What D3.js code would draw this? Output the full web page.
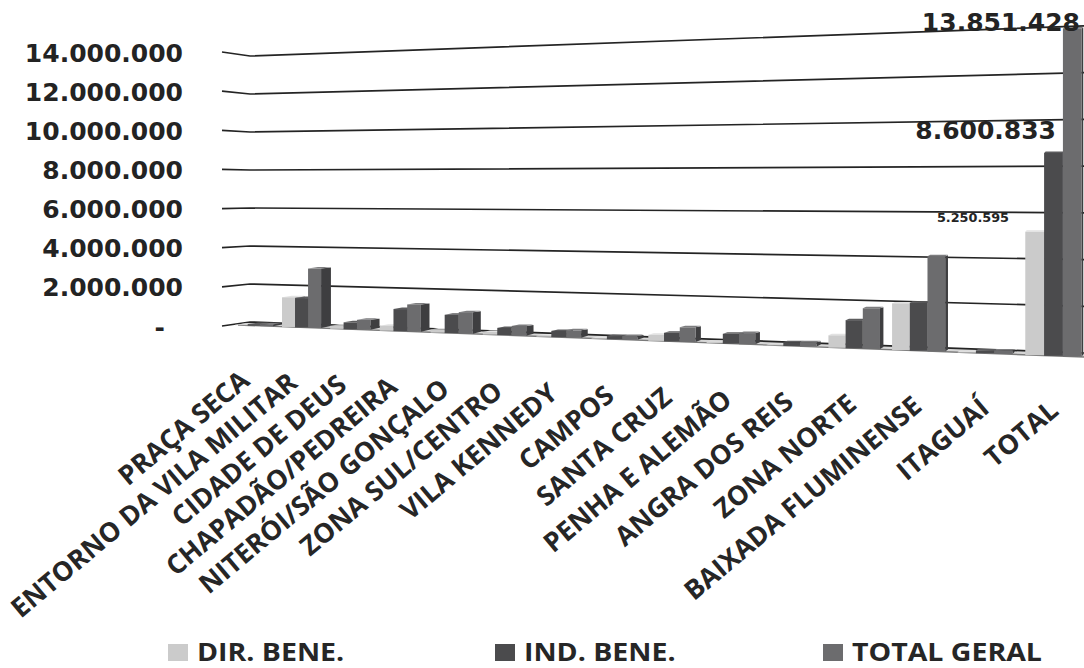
<!DOCTYPE html>
<html lang="pt-BR">
<head>
<meta charset="utf-8">
<script src="https://cdn.jsdelivr.net/npm/d3@7/dist/d3.min.js"></script>
<style>
  html, body { margin: 0; padding: 0; background: #fff; }
  svg { display: block; }
</style>
</head>
<body>
<svg id="chart" width="1084" height="668"></svg>
<script>
const categories = ["PRAÇA SECA", "ENTORNO DA VILA MILITAR", "CIDADE DE DEUS", "CHAPADÃO/PEDREIRA",
  "NITERÓI/SÃO GONÇALO", "ZONA SUL/CENTRO", "VILA KENNEDY", "CAMPOS", "SANTA CRUZ",
  "PENHA E ALEMÃO", "ANGRA DOS REIS", "ZONA NORTE", "BAIXADA FLUMINENSE", "ITAGUAÍ", "TOTAL"];
const seriesNames = ["DIR. BENE.", "IND. BENE.", "TOTAL GERAL"];
const dirBene = [20000, 1520000, 150000, 250000, 150000, 120000, 50000, 30000, 280000, 60000, 30000, 550000, 2050000, 30000, 5250595];
const indBene = [80000, 1500000, 350000, 1100000, 900000, 350000, 300000, 150000, 400000, 450000, 170000, 1250000, 2100000, 120000, 8600833];
const totalGeral = [100000, 3020000, 500000, 1350000, 1050000, 470000, 350000, 180000, 680000, 510000, 200000, 1800000, 4150000, 150000, 13851428];
const yTicks = [0, 2000000, 4000000, 6000000, 8000000, 10000000, 12000000, 14000000];
const barLabels = [
  { text: "5.250.595", size: 12.8, weight: "bold", endX: 1009, baseline: 222 },
  { text: "8.600.833", size: 25, weight: "bold", endX: 1056, baseline: 139 },
  { text: "13.851.428", size: 25, weight: "bold", endX: 1080, baseline: 31 }
];
const series = [dirBene, indBene, totalGeral];
const frontColors = ["#cbcbcb", "#4b4b4d", "#6c6c6e"];
const topColors = ["#e2e2e2", "#5c5c5e", "#7d7d7f"];
const sideColors = ["#a8a8a8", "#38383a", "#3e3e40"];

const svg = d3.select("#chart");
const labelFont = "'Open Sans', sans-serif";
const numberFont = "'DejaVu Sans', sans-serif";

// Perspective along the category axis: slots widen towards the viewer on the right.
const depth = i => i / (1 - 0.0127 * i);
const slotScale = d3.scaleLinear().domain([0, depth(15)]).range([235, 1095]);
const groupX = i => slotScale(depth(i));
const slotWidth = i => groupX(i + 1) - groupX(i);
const sideWidth = d3.scaleLinear().domain([0, 14]).range([10.5, 1.5]);

// Floor edges and value scale at a given horizontal position.
const backY = d3.scaleLinear().domain([250, 1084]).range([322, 353]);
const frontY = d3.scaleLinear().domain([250, 1084]).range([325.5, 357]);
const wallUnit = d3.scaleLinear().domain([250, 1084]).range([19, 23.36]);
const barUnit = d3.scaleLinear().domain([250, 1084]).range([19.3, 23.75]);
const wallY = (v, x) => backY(x) - (v / 1e6) * wallUnit(x);
const barY = (v, x) => frontY(x) - (v / 1e6) * barUnit(x);

// Value axis, drawn at the left edge of the side wall.
const locale = d3.formatLocale({ decimal: ",", thousands: ".", grouping: [3], currency: ["R$", ""] });
const fmt = locale.format(",d");
const yAxisScale = d3.scaleLinear().domain([0, 14000000]).range([326, 52]);
const axisG = svg.append("g")
  .attr("transform", "translate(183,0)")
  .call(d3.axisLeft(yAxisScale).tickValues(yTicks).tickSize(0).tickPadding(0)
    .tickFormat(v => v === 0 ? "-" : fmt(v)));
axisG.select(".domain").remove();
axisG.selectAll("text")
  .attr("dy", "0.36em")
  .attr("x", v => v === 0 ? -18 : 0)
  .attr("fill", "#232323")
  .style("font-family", numberFont)
  .style("font-size", "25px")
  .style("font-weight", "bold");

// Floor wedge.
svg.append("polygon")
  .attr("points", [[250, backY(250)], [1084, backY(1084)], [1084, frontY(1084)], [238, frontY(238)]].join(" "))
  .attr("fill", "#d6d6d6");
svg.append("line")
  .attr("x1", 238).attr("y1", frontY(238)).attr("x2", 1084).attr("y2", frontY(1084))
  .attr("stroke", "#7a7a7a").attr("stroke-width", 1.4);

// Gridlines bend where the side wall meets the back wall.
const gridLine = d3.line();
svg.append("g").selectAll("path").data(yTicks).join("path")
  .attr("d", v => gridLine([[222, yAxisScale(v)], [250, wallY(v, 250)], [1084, wallY(v, 1084)]]))
  .attr("fill", "none")
  .attr("stroke", "#242424")
  .attr("stroke-width", 1.7);

// Bars: each has a front, a top and a right-hand side face.
const bars = [];
categories.forEach((c, i) => series.forEach((values, s) => {
  const w = slotWidth(i) * 0.27;
  const x0 = groupX(i) + s * w;
  const bottom = frontY(x0 + w / 2);
  const top = barY(values[i], x0 + w / 2);
  bars.push({ x0, x1: x0 + w, top, bottom, side: sideWidth(i), s });
}));
const barG = svg.append("g").selectAll("g").data(bars).join("g");
barG.append("polygon")
  .attr("points", d => [[d.x1, d.top], [d.x1 + d.side, d.top - 1], [d.x1 + d.side, d.bottom - 2], [d.x1, d.bottom]].join(" "))
  .attr("fill", d => sideColors[d.s]);
barG.append("polygon")
  .attr("points", d => [[d.x0, d.top], [d.x0 + d.side, d.top - 1.5], [d.x1 + d.side, d.top - 1.5], [d.x1, d.top]].join(" "))
  .attr("fill", d => topColors[d.s]);
barG.append("rect")
  .attr("x", d => d.x0).attr("y", d => d.top)
  .attr("width", d => d.x1 - d.x0).attr("height", d => d.bottom - d.top)
  .attr("fill", d => frontColors[d.s]);

// Value labels for the TOTAL group.
svg.append("g").selectAll("text").data(barLabels).join("text")
  .attr("x", d => d.endX).attr("y", d => d.baseline)
  .attr("text-anchor", "end")
  .attr("fill", "#232323")
  .style("font-family", numberFont)
  .style("font-size", d => d.size + "px")
  .style("font-weight", d => d.weight)
  .text(d => d.text);

// Slanted category labels ending under each group.
const labelTipX = i => groupX(i) + slotWidth(i) * 0.826 - 33;
const labelTipY = i => 371 + i * 2.14;
svg.append("g").selectAll("text").data(categories).join("text")
  .attr("transform", (c, i) => `translate(${labelTipX(i)},${labelTipY(i)}) rotate(-40)`)
  .attr("x", 0).attr("y", 16)
  .attr("text-anchor", "end")
  .attr("fill", "#262626")
  .style("font-family", labelFont)
  .style("font-size", "26.8px")
  .style("font-weight", 700)
  .text(c => c);

// Legend: labels are wide and short, so they are stretched horizontally.
const legendSwatchX = [168, 495, 823];
const legendG = svg.append("g").selectAll("g").data(seriesNames).join("g")
  .attr("transform", (n, i) => `translate(${legendSwatchX[i]},644)`);
legendG.append("rect")
  .attr("width", 20).attr("height", 17)
  .attr("fill", (n, i) => frontColors[i]);
legendG.append("text")
  .attr("transform", "translate(29,16.5) scale(1.14,1)")
  .attr("fill", "#262626")
  .style("font-family", labelFont)
  .style("font-size", "25px")
  .style("font-weight", 700)
  .text(n => n);
</script>
</body>
</html>
